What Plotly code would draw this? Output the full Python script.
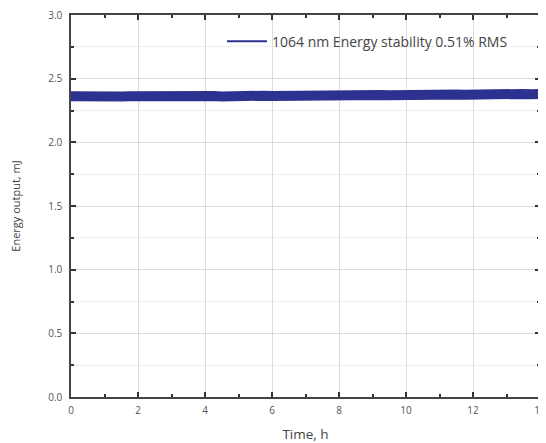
import plotly.graph_objects as go

time_h = [i * 0.25 for i in range(57)]
energy_mj = [
    2.362, 2.359, 2.363, 2.360, 2.358, 2.362, 2.359, 2.361, 2.363, 2.358,
    2.362, 2.360, 2.363, 2.359, 2.361, 2.364, 2.360, 2.363, 2.360, 2.365,
    2.362, 2.364, 2.361, 2.366, 2.363, 2.365, 2.367, 2.364, 2.366, 2.368,
    2.365, 2.369, 2.367, 2.369, 2.371, 2.368, 2.371, 2.372, 2.369, 2.372,
    2.373, 2.371, 2.374, 2.372, 2.375, 2.373, 2.376, 2.374, 2.377, 2.375,
    2.378, 2.376, 2.379, 2.377, 2.380, 2.378, 2.380,
]
series_name = "1064 nm Energy stability 0.51% RMS"
line_color = "#2d3190"

fig = go.Figure()
fig.add_trace(go.Scatter(
    x=time_h, y=energy_mj, mode="lines", name=series_name, showlegend=False,
    line=dict(color=line_color, width=10),
))
fig.add_trace(go.Scatter(
    x=[None], y=[None], mode="lines", name=series_name, showlegend=True,
    line=dict(color=line_color, width=2),
))

axis_common = dict(
    showline=True, linecolor="#444", linewidth=1.5, mirror="allticks",
    ticks="inside", ticklen=5, tickcolor="#333", tickwidth=1.5,
    showgrid=True, gridcolor="#dcdcdc", gridwidth=1,
    zeroline=False, automargin=False, ticklabeloverflow="allow",
    tickfont=dict(family="Open Sans", size=10, color="#555"),
)
fig.update_xaxes(
    range=[0, 14], dtick=2, tick0=0, ticklabelstandoff=3,
    minor=dict(dtick=1, ticks="inside", ticklen=3, tickcolor="#333", showgrid=False),
    title=dict(text="Time, h", font=dict(family="Open Sans", size=13.5, color="#444"), standoff=18),
    **axis_common,
)
fig.update_yaxes(
    range=[0, 3.0], dtick=0.5, tick0=0, tickformat=".1f", ticklabelstandoff=5,
    minor=dict(dtick=0.25, ticks="inside", ticklen=3, tickcolor="#333", showgrid=True, gridcolor="#eeeeee"),
    title=dict(text="Energy output, mJ", font=dict(family="Open Sans", size=11, color="#444"), standoff=26),
    **axis_common,
)
fig.update_layout(
    width=546, height=435,
    margin=dict(l=63, r=14, t=7, b=46),
    plot_bgcolor="white", paper_bgcolor="white",
    showlegend=True,
    legend=dict(x=0.322, y=0.93, xanchor="left", yanchor="middle",
                bgcolor="rgba(0,0,0,0)", font=dict(family="Open Sans", size=14, color="#444"),
                itemwidth=40),
)
fig.write_html("out.html")
